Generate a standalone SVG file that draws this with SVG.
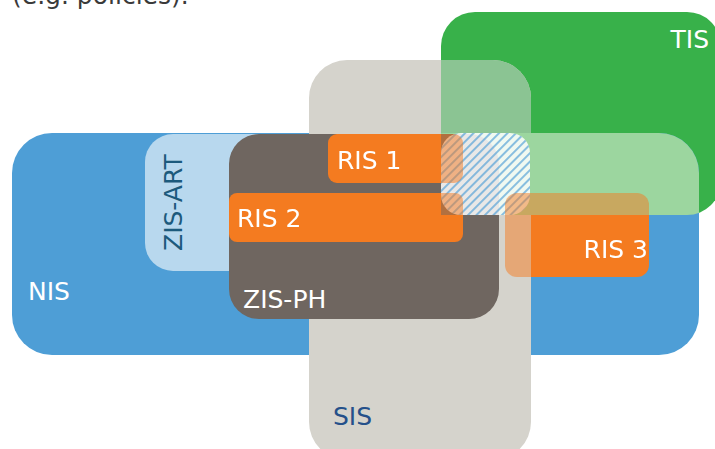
<svg xmlns="http://www.w3.org/2000/svg" width="715" height="449" viewBox="0 0 715 449">
<style>
text{font-family:"DejaVu Sans","Verdana",sans-serif;font-size:25px}
.w{fill:#ffffff}
.orange{fill:#F47B20}
</style>
<defs>
<clipPath id="cTIS"><rect x="441" y="12" width="280" height="203" rx="34"/></clipPath>
<clipPath id="cSIS"><rect x="309" y="60" width="222" height="400" rx="38"/></clipPath>
<clipPath id="cHome12"><rect x="0" y="0" width="441" height="449"/><rect x="441" y="215" width="274" height="234"/></clipPath>
<clipPath id="cIn12"><rect x="441" y="0" width="274" height="215"/></clipPath>
<clipPath id="cHome3"><rect x="531" y="215" width="184" height="234"/></clipPath>
<clipPath id="cIn3"><rect x="441" y="0" width="274" height="215"/><rect x="309" y="0" width="222" height="449"/></clipPath>
<pattern id="hatch" patternUnits="userSpaceOnUse" width="6" height="6" patternTransform="rotate(45)">
<line x1="3" y1="-1" x2="3" y2="7" stroke="#4E9ED6" stroke-width="1.3"/>
</pattern>
</defs>
<text x="12" y="4" fill="#3a3a3a">(e.g. policies).</text>
<g id="TIS">
<rect x="441" y="12" width="280" height="203" rx="34" fill="#38B14A"/>
<text x="709" y="48" class="w" text-anchor="end">TIS</text>
</g>
<g id="NIS">
<rect x="12" y="133" width="687" height="222" rx="40" fill="#4E9ED6"/>
<text x="28" y="300" class="w">NIS</text>
</g>
<g id="SIS">
<rect x="309" y="60" width="222" height="400" rx="38" fill="#D5D3CC"/>
<text x="333" y="425" fill="#25508A">SIS</text>
</g>
<g id="NIS-TIS">
<rect x="12" y="133" width="687" height="222" rx="40" fill="#9CD69F" clip-path="url(#cTIS)"/>
</g>
<g id="SIS-TIS">
<rect x="441" y="40" width="100" height="93" fill="#8BC493" clip-path="url(#cSIS)"/>
</g>
<g id="ZIS-ART">
<rect x="145" y="134" width="200" height="137" rx="28" fill="#B8D8EE"/>
<text transform="translate(182,251) rotate(-90)" fill="#1C5A7C">ZIS-ART</text>
</g>
<g id="ZIS-PH">
<rect x="229" y="134" width="270" height="185" rx="30" fill="#6F6660"/>
<text x="243" y="308" class="w">ZIS-PH</text>
</g>
<g id="RIS1">
<rect x="328" y="134" width="135" height="49" rx="9" class="orange" clip-path="url(#cHome12)"/>
</g>
<g id="RIS2">
<rect x="229" y="193" width="234" height="49" rx="8" class="orange" clip-path="url(#cHome12)"/>
</g>
<g id="RIS3">
<rect x="505" y="193" width="144" height="84" rx="12" class="orange" clip-path="url(#cHome3)"/>
</g>
<g id="overlap">
<rect x="441" y="133" width="89" height="82" rx="20" fill="#ffffff" fill-opacity="0.85"/>
<rect x="441" y="133" width="89" height="82" rx="20" fill="url(#hatch)"/>
</g>
<g id="RIS-overlaps" opacity="0.5">
<rect x="328" y="134" width="135" height="49" rx="9" class="orange" clip-path="url(#cIn12)"/>
<rect x="229" y="193" width="234" height="49" rx="8" class="orange" clip-path="url(#cIn12)"/>
<rect x="505" y="193" width="144" height="84" rx="12" class="orange" clip-path="url(#cIn3)"/>
</g>
<g id="labels">
<text x="337" y="169" class="w">RIS 1</text>
<text x="237" y="227" class="w">RIS 2</text>
<text x="648" y="258" class="w" text-anchor="end">RIS 3</text>
</g>
</svg>
